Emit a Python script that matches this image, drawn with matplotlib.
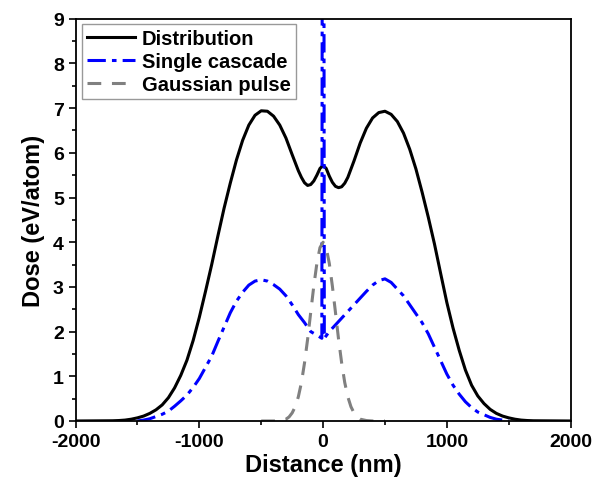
import matplotlib
matplotlib.use("Agg")
import matplotlib.pyplot as plt
from matplotlib.ticker import MultipleLocator

plt.rcParams['font.family'] = ['Liberation Sans', 'DejaVu Sans']
plt.rcParams['font.weight'] = 'bold'
plt.rcParams['axes.unicode_minus'] = False

# Distribution (black solid)
dist_x = [-2000, -1700, -1650, -1600, -1550, -1500, -1450, -1400, -1350, -1300, -1250, -1200, -1150,
          -1100, -1050, -1000, -950, -900, -850, -800, -750, -700, -650, -600, -550, -500,
          -450, -400, -350, -300, -250, -200, -175, -150, -125, -100, -75, -50, -25, 0,
          25, 50, 75, 100, 125, 150, 175, 200, 250, 300, 350, 400, 450, 500, 550, 600,
          650, 700, 750, 800, 850, 900, 950, 1000, 1050, 1100, 1150, 1200, 1250, 1300,
          1350, 1400, 1450, 1500, 1550, 1600, 1650, 1700, 2000]
dist_y = [0.0, 0.005, 0.01, 0.02, 0.04, 0.07, 0.11, 0.17, 0.25, 0.36, 0.52, 0.74, 1.02,
          1.36, 1.80, 2.32, 2.90, 3.50, 4.14, 4.76, 5.32, 5.84, 6.28, 6.62, 6.84, 6.94,
          6.93, 6.82, 6.62, 6.33, 5.96, 5.60, 5.45, 5.33, 5.27, 5.29, 5.37, 5.50, 5.65, 5.72,
          5.65, 5.48, 5.34, 5.25, 5.22, 5.24, 5.32, 5.45, 5.82, 6.22, 6.55, 6.78, 6.90, 6.93, 6.86, 6.70,
          6.44, 6.08, 5.64, 5.12, 4.56, 3.96, 3.30, 2.65, 2.08, 1.58, 1.14, 0.80, 0.56, 0.39,
          0.26, 0.17, 0.11, 0.07, 0.04, 0.02, 0.01, 0.005, 0.0]

# Single cascade (blue dash-dot)
casc_x = [-1500, -1450, -1400, -1350, -1300, -1250, -1200, -1150, -1100, -1050, -1000, -950, -900,
          -850, -800, -750, -700, -650, -600, -550, -500, -450, -400, -350, -300, -250, -200,
          -150, -100, -50, -10, 0, 10, 50, 100, 150, 200, 250, 300, 350, 400, 450, 500, 550,
          600, 650, 700, 750, 800, 850, 900, 950, 1000, 1050, 1100, 1150, 1200, 1250, 1300,
          1350, 1400, 1450, 1500]
casc_y = [0.0, 0.02, 0.05, 0.1, 0.15, 0.22, 0.33, 0.45, 0.58, 0.75, 0.95, 1.2, 1.45,
          1.78, 2.1, 2.42, 2.68, 2.88, 3.04, 3.13, 3.16, 3.13, 3.05, 2.95, 2.8, 2.6, 2.38,
          2.2, 2.0, 1.92, 1.85, 30.0, 1.85, 2.0, 2.15, 2.3, 2.45, 2.6, 2.75, 2.9, 3.04, 3.14, 3.18, 3.1,
          2.95, 2.8, 2.6, 2.4, 2.2, 1.95, 1.65, 1.35, 1.05, 0.8, 0.6, 0.43, 0.3, 0.2, 0.14,
          0.08, 0.04, 0.02, 0.0]

# Gaussian pulse (gray dashed)
gaus_x = [-500, -400, -350, -300, -275, -250, -225, -200, -175, -150, -125, -100, -75, -50, -25, 0,
          25, 50, 75, 100, 125, 150, 175, 200, 225, 250, 275, 300, 350, 400, 500]
gaus_y = [0.0, 0.0, 0.01, 0.04, 0.09, 0.18, 0.32, 0.54, 0.86, 1.30, 1.83, 2.43, 3.02, 3.53, 3.88, 4.0,
          3.88, 3.53, 3.02, 2.43, 1.83, 1.30, 0.86, 0.54, 0.32, 0.18, 0.09, 0.04, 0.01, 0.0, 0.0]

labels = ["Distribution", "Single cascade", "Gaussian pulse"]

fig = plt.figure(figsize=(5.95, 4.81), dpi=100)
ax = fig.add_axes([0.127, 0.1227, 0.832, 0.8363])

ax.plot(dist_x, dist_y, color='black', lw=2.2, label=labels[0])
ax.plot(casc_x, casc_y, color='#0000FF', lw=2.2, linestyle=(0, (6, 2, 1.5, 2)), label=labels[1])
ax.plot(gaus_x, gaus_y, color='#808080', lw=2.2, linestyle=(0, (4.5, 3.5)), label=labels[2])

ax.set_xlim(-2000, 2000)
ax.set_ylim(0, 9)
ax.xaxis.set_major_locator(MultipleLocator(1000))
ax.xaxis.set_minor_locator(MultipleLocator(500))
ax.yaxis.set_major_locator(MultipleLocator(1))
ax.yaxis.set_minor_locator(MultipleLocator(0.5))
ax.tick_params(which='both', direction='out', top=False, right=False, width=1.2)
ax.tick_params(which='major', length=5, labelsize=14)
ax.tick_params(which='minor', length=3)
for s in ax.spines.values():
    s.set_linewidth(1.3)

ax.set_xlabel("Distance (nm)", fontsize=17, fontweight='bold', labelpad=2)
ax.set_ylabel("Dose (eV/atom)", fontsize=17, fontweight='bold', labelpad=6)

leg = ax.legend(loc='upper left', bbox_to_anchor=(0.012, 0.988), borderaxespad=0,
                fancybox=False, frameon=True, edgecolor='#808080',
                handlelength=2.4, handletextpad=0.35, labelspacing=0.22, borderpad=0.25,
                prop={'weight': 'bold', 'size': 14.5})
leg.get_frame().set_linewidth(1.0)

fig.savefig("out.png", dpi=100)
